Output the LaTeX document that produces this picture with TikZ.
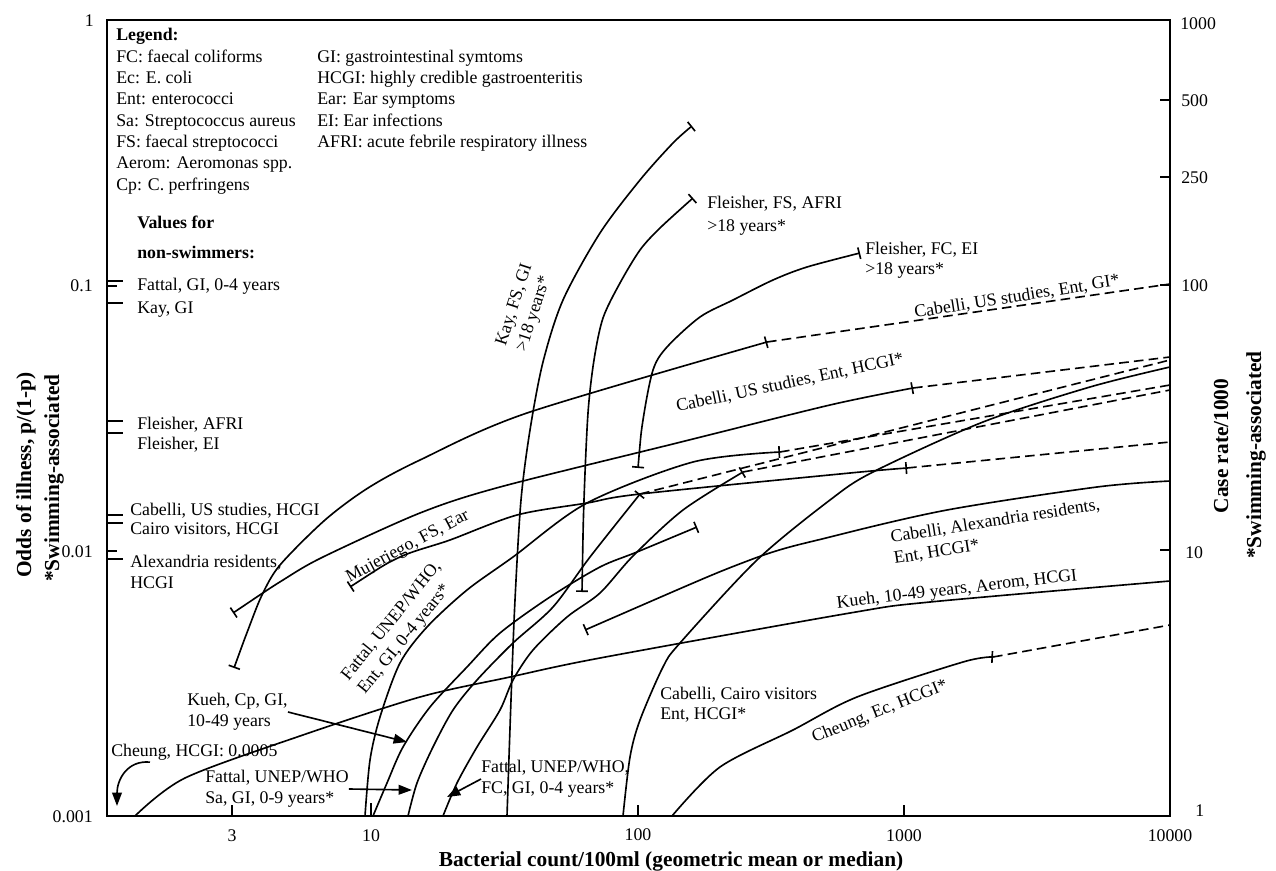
\documentclass[tikz,border=0pt]{standalone}
\usepackage{fontspec}
\setmainfont{Liberation Serif}
\usetikzlibrary{arrows.meta,calc}
\begin{document}
\begin{tikzpicture}[x=0.0237cm, y=-0.0237cm,
  font=\fontsize{12}{14.36}\selectfont,
  curve/.style={line width=1.1pt, line join=round},
  extension/.style={line width=1.1pt, dash pattern=on 6.5pt off 3.5pt},
  endbar/.style={-{Bar[width=8pt]}},
  startbar/.style={{Bar[width=8pt]}-},
  twobar/.style={{Bar[width=8pt]}-{Bar[width=8pt]}},
  pointer/.style={line width=1.1pt, -{Triangle[length=9pt,width=6.5pt]}},
  txt/.style={inner sep=0pt, anchor=base west},
  onplot/.style={inner sep=0pt, align=left},
  axtitle/.style={inner sep=0pt, anchor=base, font=\fontsize{14.4}{17}\selectfont\bfseries}]
\useasboundingbox (0,0) rectangle (1276,871);

% frame and ticks
\draw[line width=1.4pt] (107,20) rectangle (1170,816);
\draw[line width=1.1pt] (232,816)--(232,805) (371,816)--(371,803) (638,816)--(638,805) (904,816)--(904,805);
\draw[line width=1.1pt] (1160,100)--(1170,100) (1160,177)--(1170,177) (1160,285)--(1170,285) (1160,550)--(1170,550);
\draw[line width=1.1pt] (107,286)--(117,286) (107,551)--(117,551);

% axis numbers
\node[inner sep=0pt, anchor=base east] (y1) at (94,26) {1};
\node[inner sep=0pt, anchor=base east] (y01) at (93,291) {0.1};
\node[inner sep=0pt, anchor=base east] (y001) at (93,557) {0.01};
\node[inner sep=0pt, anchor=base east] (y0001) at (93,822) {0.001};
\node[inner sep=0pt, anchor=base] (x3) at (232,841) {3};
\node[inner sep=0pt, anchor=base] (x10) at (371,841) {10};
\node[inner sep=0pt, anchor=base] (x100) at (638,840) {100};
\node[inner sep=0pt, anchor=base] (x1000) at (904,841) {1000};
\node[inner sep=0pt, anchor=base] (x10000) at (1170,841) {10000};
\node[txt] (r1000) at (1180,29) {1000};
\node[txt] (r500) at (1181,106) {500};
\node[txt] (r250) at (1181,183) {250};
\node[txt] (r100) at (1181,291) {100};
\node[txt] (r10) at (1185,558) {10};
\node[txt] (r1) at (1195,816) {1};

% axis titles
\node[axtitle] (xtitle) at (671,866) {Bacterial count/100ml (geometric mean or median)};
\node[axtitle, rotate=90] (ytitle) at (31,475) {Odds of illness, p/(1-p)};
\node[axtitle, rotate=90] (ytitleb) at (59,478) {*Swimming-associated};
\node[axtitle, rotate=90] (rtitle) at (1228,446) {Case rate/1000};
\node[axtitle, rotate=90] (rtitleb) at (1261,455) {*Swimming-associated};

% legend
\node[txt] (legtitle) at (116,40) {\bfseries Legend:};
\node[txt, align=left] (legleft) at (116,190) {FC: faecal coliforms\\Ec: E. coli\\Ent: enterococci\\Sa: Streptococcus aureus\\FS: faecal streptococci\\Aerom: Aeromonas spp.\\Cp: C. perfringens};
\node[txt, align=left] (legright) at (317,147.5) {GI: gastrointestinal symtoms\\HCGI: highly credible gastroenteritis\\Ear: Ear symptoms\\EI: Ear infections\\AFRI: acute febrile respiratory illness};

% non-swimmers
\node[txt] (vals) at (137,228) {\bfseries Values for};
\node[txt] (valsb) at (137,258) {\bfseries non-swimmers:};
\draw[line width=1.1pt] (107,281)--(123,281) (107,303)--(123,303) (107,421)--(123,421) (107,433)--(123,433)
  (107,515)--(123,515) (107,523)--(123,523) (107,559)--(123,559);
\node[txt] (fattalgi) at (137,290) {Fattal, GI, 0-4 years};
\node[txt] (kaygi) at (137,313) {Kay, GI};
\node[txt] (fleisherafri) at (137,429) {Fleisher, AFRI};
\node[txt] (fleisherei) at (137,449) {Fleisher, EI};
\node[txt] (cabellihcgi) at (130,515) {Cabelli, US studies, HCGI};
\node[txt] (cairohcgi) at (130,534) {Cairo visitors, HCGI};
\node[txt] (alexhcgi) at (130,567) {Alexandria residents,};
\node[txt] (alexhcgib) at (130,588) {HCGI};

% curves
\draw[curve] plot[smooth, tension=0.5] coordinates {(135,816) (185,778) (300,736) (420,697) (510,677) (600,658) (850,613) (930,602) (1170,581)};
\draw[curve, endbar] plot[smooth] coordinates {(672,816) (720,767) (793,730) (857,697) (963,662) (993,657)};
\draw[extension] (993,657) -- (1170,625);
\draw[curve] plot[smooth] coordinates {(623,816) (630,757) (640,720) (663,667) (680,643) (757,560) (830,500) (873,472) (983,422) (1090,387) (1170,367)};
\draw[curve, startbar] plot[smooth] coordinates {(585,630) (750,560) (830,537) (947,510) (1097,487) (1170,481)};
\draw[curve, twobar] plot[smooth] coordinates {(234,668) (248,630) (262,595) (280,565) (325,520) (368,488) (420,460) (527,413) (767,342)};
\draw[extension] (767,342) -- (1170,284);
\draw[curve, twobar] plot[smooth] coordinates {(233,613) (283,580) (323,557) (420,513) (500,487) (677,443) (830,405) (913,388)};
\draw[extension] (913,388) -- (1170,357);
\draw[curve, twobar] plot[smooth] coordinates {(350,587) (400,557) (450,540) (517,515) (587,503) (640,494) (850,473) (907,468)};
\draw[extension] (907,468) -- (1170,442);
\draw[curve, twobar] plot[smooth] coordinates {(582,592) (584,500) (588,413) (594,360) (603,318) (620,283) (640,250) (660,228) (693,198)};
\draw[curve, endbar] plot[smooth] coordinates {(507,816) (511,700) (515,600) (521,500) (530,430) (543,362) (563,300) (600,233) (640,180) (673,143) (692,126)};
\draw[curve, twobar] plot[smooth] coordinates {(638,468) (643,420) (653,370) (667,347) (700,317) (733,300) (773,280) (807,267) (860,253)};
\draw[curve, endbar] plot[smooth] coordinates {(365,816) (370,760) (380,717) (400,663) (427,627) (467,590) (513,557) (587,503) (693,462) (780,452)};
\draw[extension] (780,452) -- (1170,385);
\draw[curve, endbar] plot[smooth] coordinates {(373,816) (387,783) (403,747) (430,707) (467,667) (500,633) (550,597) (600,567) (637,552) (697,527)};
\draw[curve, endbar] plot[smooth] coordinates {(408,816) (417,783) (433,747) (453,710) (477,680) (513,643) (553,607) (590,557) (640,494)};
\draw[extension] (640,494) -- (1170,360);
\draw[curve, endbar] plot[smooth] coordinates {(443,816) (457,783) (477,747) (500,710) (513,680) (533,650) (567,617) (600,593) (633,556) (683,510) (743,472)};
\draw[extension] (743,472) -- (1170,390);

% curve labels
\node[onplot, rotate=28] (mujeriego) at (408,547) {Mujeriego, FS, Ear};
\node[onplot, rotate=51] (fattalent) at (400,628) {Fattal, UNEP/WHO,\\Ent, GI, 0-4 years*};
\node[onplot, rotate=72] (kayfs) at (525,308) {Kay, FS, GI\\>18 years*};
\node[txt] (fleisherfs) at (707,208) {Fleisher, FS, AFRI};
\node[txt] (fleisherfsb) at (707,231) {>18 years*};
\node[txt] (fleisherfc) at (865,254) {Fleisher, FC, EI};
\node[txt] (fleisherfcb) at (865,274) {>18 years*};
\node[onplot, rotate=9] (usgi) at (1017,297) {Cabelli, US studies, Ent, GI*};
\node[onplot, rotate=12] (ushcgi) at (790,383) {Cabelli, US studies, Ent, HCGI*};
\node[onplot, rotate=9] (alexent) at (997,532) {Cabelli, Alexandria residents,\\Ent, HCGI*};
\node[onplot, rotate=6.6] (kuehaerom) at (957,590) {Kueh, 10-49 years, Aerom, HCGI};
\node[onplot, rotate=22] (cheungec) at (880,712) {Cheung, Ec, HCGI*};
\node[txt] (cairo) at (660,699) {Cabelli, Cairo visitors};
\node[txt] (cairob) at (660,719) {Ent, HCGI*};

% pointed labels
\node[onplot, anchor=west] (kuehcp) at (187,712) {Kueh, Cp, GI,\\10-49 years};
\node[txt] (cheunghcgi) at (111,756) {Cheung, HCGI: 0.0005};
\node[onplot, anchor=west] (fattalsa) at (205,789) {Fattal, UNEP/WHO\\Sa, GI, 0-9 years*};
\node[onplot, anchor=west] (fattalfc) at (481,779) {Fattal, UNEP/WHO,\\FC, GI, 0-4 years*};
\coordinate (kuehcptip) at (407,742);
\coordinate (cheungtip) at (117,806);
\coordinate (fattalsatip) at (412,790);
\coordinate (fattalfctip) at (447,797);
\draw[pointer] (kuehcp.east) -- (kuehcptip);
\draw[pointer] ($(cheunghcgi.south west)+(39,2)$) .. controls (127,760) and (117,780) .. (cheungtip);
\draw[pointer] (fattalsa.east) -- (fattalsatip);
\draw[pointer] (fattalfc.west) -- (fattalfctip);
\end{tikzpicture}
\end{document}
